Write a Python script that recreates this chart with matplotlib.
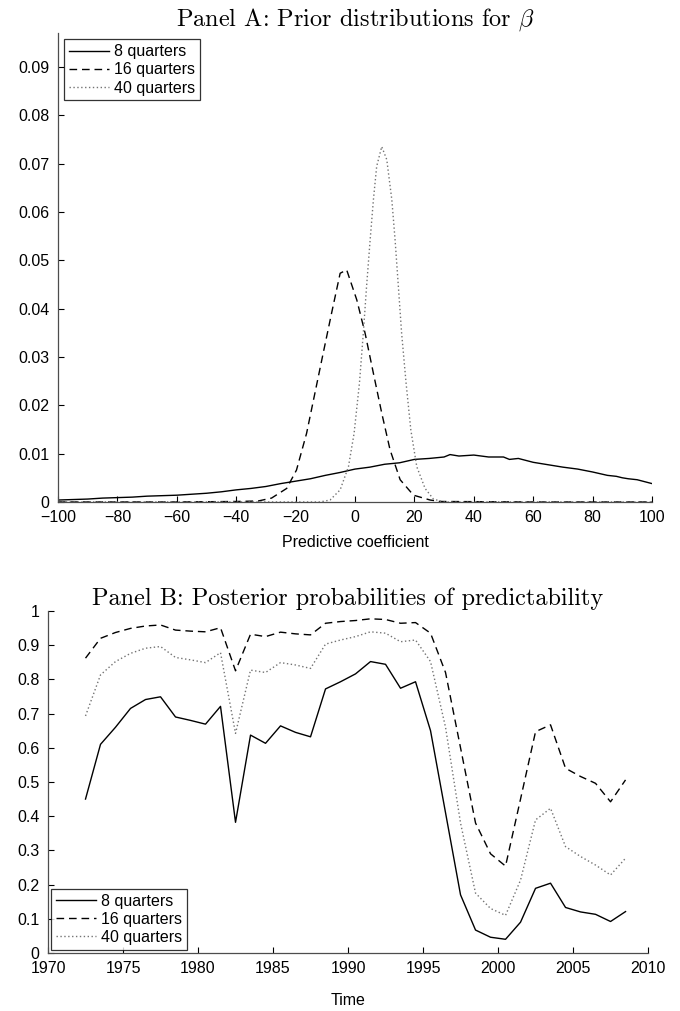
import numpy as np
from matplotlib import pyplot as plt

plt.rcParams['font.family'] = ['Liberation Sans', 'DejaVu Sans']
plt.rcParams['mathtext.fontset'] = 'cm'

labels = ["8 quarters", "16 quarters", "40 quarters"]

# Panel A: prior densities of the predictive coefficient
beta_8 = [-100, -95, -90, -85, -80, -75, -70, -65, -60, -55, -50, -45, -40, -35, -30,
          -25, -20, -15, -10, -5, 0, 5, 10, 15, 20, 25, 30, 32, 35, 40, 45, 50, 52,
          55, 60, 65, 70, 75, 80, 85, 88, 90, 92, 95, 100]
dens_8 = [0.0004, 0.0005, 0.0006, 0.0008, 0.0009, 0.0010, 0.0012, 0.0013, 0.0014, 0.0016,
          0.0018, 0.0021, 0.0025, 0.0028, 0.0032, 0.0038, 0.0043, 0.0048, 0.0055, 0.0061,
          0.0068, 0.0072, 0.0078, 0.0081, 0.0088, 0.0090, 0.0093, 0.0098, 0.0095, 0.0097,
          0.0093, 0.0093, 0.0088, 0.0090, 0.0082, 0.0077, 0.0072, 0.0068, 0.0062, 0.0055,
          0.0053, 0.0050, 0.0048, 0.0046, 0.0038]

beta_16 = [-100, -60, -40, -32.6, -28.1, -23, -19.7, -16.3, -13.5, -10.7, -7.9, -5, -2.8,
           0.6, 3.4, 6.2, 9, 11.8, 15.2, 19.7, 25.3, 28.7, 60, 100]
dens_16 = [0.0, 0.0, 0.0001, 0.0002, 0.0008, 0.0028, 0.0066, 0.0142, 0.0225, 0.0308, 0.0390,
           0.0473, 0.0480, 0.0418, 0.0349, 0.0266, 0.0184, 0.0108, 0.0046, 0.0014, 0.0004,
           0.0001, 0.0, 0.0]

beta_40 = [-100, -40, -11.8, -8.4, -5, -2.2, -0.3, 1.5, 2.8, 3.9, 5.1, 6.2, 7.3, 9, 10.7,
           12.4, 13.5, 14.6, 15.7, 17.2, 18.8, 20.8, 23.6, 26.4, 29.8, 60, 100]
dens_40 = [0.0, 0.0, 0.0, 0.0004, 0.0025, 0.0073, 0.0142, 0.0246, 0.0349, 0.0446, 0.0542,
           0.0625, 0.0694, 0.0735, 0.0708, 0.0625, 0.0542, 0.0446, 0.0349, 0.0246, 0.0149,
           0.0073, 0.0028, 0.0006, 0.0, 0.0, 0.0]

# Panel B: posterior probabilities over time
years = [1972.5 + i for i in range(37)]
post_8 = [0.45, 0.61, 0.66, 0.715, 0.741, 0.749, 0.69, 0.68, 0.669, 0.721, 0.382, 0.637,
          0.613, 0.664, 0.645, 0.632, 0.772, 0.793, 0.816, 0.852, 0.844, 0.774, 0.793,
          0.65, 0.41, 0.17, 0.067, 0.046, 0.04, 0.09, 0.189, 0.204, 0.133, 0.12, 0.113,
          0.092, 0.121]
post_16 = [0.862, 0.92, 0.937, 0.949, 0.956, 0.959, 0.944, 0.941, 0.939, 0.951, 0.825,
           0.932, 0.925, 0.938, 0.933, 0.93, 0.964, 0.969, 0.972, 0.977, 0.975, 0.964,
           0.966, 0.935, 0.82, 0.6, 0.38, 0.29, 0.254, 0.45, 0.647, 0.667, 0.54, 0.516,
           0.496, 0.442, 0.506]
post_40 = [0.693, 0.813, 0.852, 0.876, 0.891, 0.896, 0.864, 0.857, 0.849, 0.878, 0.642,
           0.827, 0.82, 0.849, 0.842, 0.832, 0.903, 0.915, 0.925, 0.939, 0.935, 0.91,
           0.915, 0.852, 0.66, 0.38, 0.175, 0.13, 0.11, 0.213, 0.389, 0.423, 0.311, 0.282,
           0.257, 0.228, 0.277]

styles = [dict(color='black', linestyle='-'),
          dict(color='black', linestyle=(0, (5.5, 3.5))),
          dict(color='0.45', linestyle=(0, (1, 1.8)))]

FS = 11.5


def style_axes(ax):
    for side in ('top', 'right'):
        ax.spines[side].set_visible(False)
    for side in ('left', 'bottom'):
        ax.spines[side].set_color('0.3')
        ax.spines[side].set_linewidth(0.9)
    ax.tick_params(direction='in', length=4, width=0.8, labelsize=FS)
    ax.tick_params(axis='x', pad=6)
    ax.tick_params(axis='y', pad=6)


def add_legend(ax, loc, pad):
    leg = ax.legend(loc=loc, fontsize=FS, frameon=True, fancybox=False,
                    edgecolor='black', handlelength=2.5, handletextpad=0.3,
                    borderpad=0.3, labelspacing=0.2, borderaxespad=pad)
    leg.get_frame().set_linewidth(0.9)
    return leg


fig = plt.figure(figsize=(6.8, 10.11), dpi=100)

ax1 = fig.add_axes([0.0853, 0.5035, 0.8735, 0.4639])
for x, y, lab, st in zip([beta_8, beta_16, beta_40], [dens_8, dens_16, dens_40], labels, styles):
    ax1.plot(x, y, label=lab, linewidth=1.0, **st)
ax1.set_xlim(-100, 100)
ax1.set_ylim(0, 0.097)
ax1.set_xticks(np.arange(-100, 101, 20))
ax1.set_yticks(np.arange(0, 0.091, 0.01))
ax1.set_yticklabels(['0'] + ['%.2f' % v for v in np.arange(0.01, 0.091, 0.01)])
ax1.set_xlabel("Predictive coefficient", fontsize=FS, labelpad=7)
ax1.set_title(r"Panel A: Prior distributions for $\beta$", fontsize=17.5,
              fontfamily='cmr10', pad=5)
style_axes(ax1)
add_legend(ax1, 'upper left', 0.4)

ax2 = fig.add_axes([0.0706, 0.0574, 0.8824, 0.3383])
for y, lab, st in zip([post_8, post_16, post_40], labels, styles):
    ax2.plot(years, y, label=lab, linewidth=1.0, **st)
ax2.set_xlim(1970, 2010)
ax2.set_ylim(0, 1)
ax2.set_xticks(np.arange(1970, 2011, 5))
ax2.set_yticks(np.arange(0, 1.01, 0.1))
ax2.set_yticklabels(['0'] + ['%.1f' % v for v in np.arange(0.1, 0.95, 0.1)] + ['1'])
ax2.set_xlabel("Time", fontsize=FS, labelpad=12)
ax2.set_title("Panel B: Posterior probabilities of predictability", fontsize=17.5,
              fontfamily='cmr10', pad=4)
style_axes(ax2)
add_legend(ax2, 'lower left', 0.2)

fig.savefig('out.png', dpi=100)
